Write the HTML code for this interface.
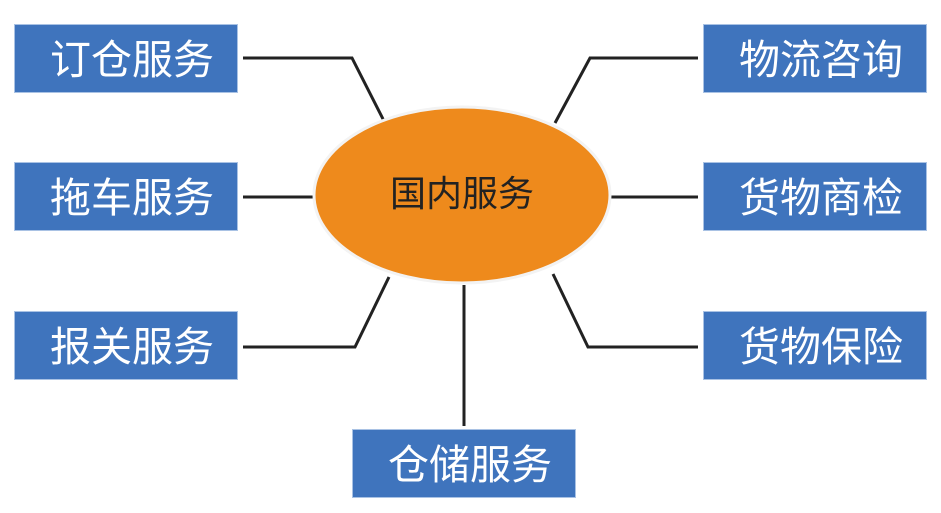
<!DOCTYPE html>
<html><head><meta charset="utf-8"><style>
body{margin:0;width:941px;height:513px;background:#fff;overflow:hidden;position:relative;font-family:"Liberation Sans","Noto Sans CJK SC",sans-serif}
.b{position:absolute;width:224px;height:69px;background:#3f74bd;border:1px solid #a9c2e4;box-sizing:border-box;color:#fff;font-size:41px;line-height:71px;text-align:center;padding-left:12px}
</style></head><body>
<svg width="941" height="513" style="position:absolute;left:0;top:0">
<g stroke="#222" stroke-width="3" fill="none">
<polyline points="243,58 352,58 384,121"/>
<polyline points="243,197 320,197"/>
<polyline points="243,347 355,347 389,277"/>
<polyline points="698,58 590,58 555,123"/>
<polyline points="608,197 698,197"/>
<polyline points="698,347 588,347 553,274"/>
<polyline points="464,285 464,426"/>
</g>
<ellipse cx="462" cy="195" rx="148" ry="88" fill="#ee8a1c" stroke="#f3f3f3" stroke-width="3"/>
<text x="462" y="206" text-anchor="middle" font-size="36" fill="#222" font-family="Liberation Sans, Noto Sans CJK SC, sans-serif">国内服务</text>
</svg>
<div class="b" style="left:14px;top:24px">订仓服务</div>
<div class="b" style="left:14px;top:162px">拖车服务</div>
<div class="b" style="left:14px;top:311px">报关服务</div>
<div class="b" style="left:703px;top:24px">物流咨询</div>
<div class="b" style="left:703px;top:162px">货物商检</div>
<div class="b" style="left:703px;top:311px">货物保险</div>
<div class="b" style="left:352px;top:429px">仓储服务</div>
</body></html>
